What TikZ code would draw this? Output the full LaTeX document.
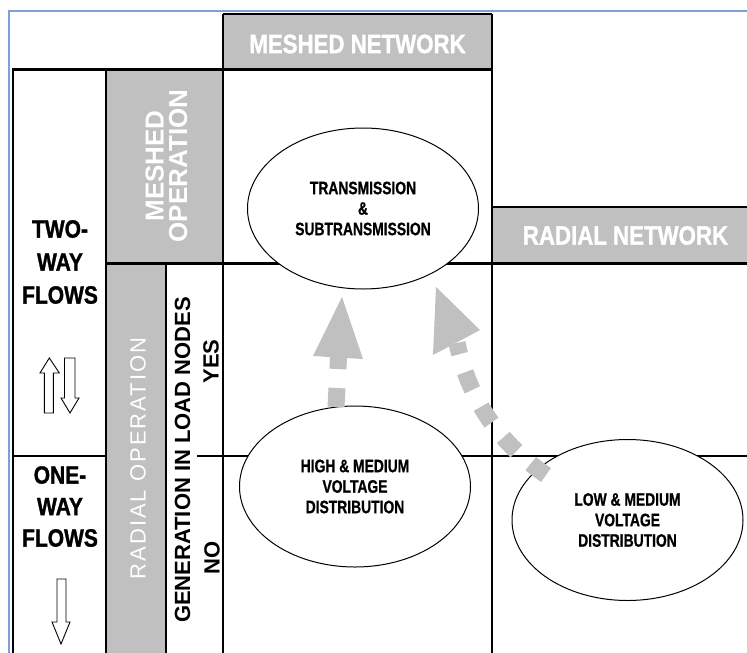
\documentclass[tikz,border=0pt]{standalone}
\usepackage{fontspec}
\setmainfont{Liberation Sans}
\newfontfamily\narrowfont[FakeStretch=0.84,FakeBold=1.2]{Liberation Sans}
\newfontfamily\ellfont[FakeStretch=0.77,FakeBold=0.8]{Liberation Sans}
\newfontfamily\spacedfont[LetterSpace=9]{Liberation Sans}
\usetikzlibrary{shapes.geometric}
\definecolor{cellgrey}{RGB}{192,192,192}
\definecolor{frameblue}{RGB}{125,160,215}
\begin{document}
\begin{tikzpicture}[x=1pt,y=-1pt,
  thickrule/.style={line width=3pt},
  midrule/.style={line width=2pt},
  thinrule/.style={line width=1.1pt},
  hdr/.style={text=white, inner sep=0pt, font=\narrowfont\bfseries\fontsize{26.5}{28}\selectfont},
  sidetext/.style={align=center, inner sep=0pt, font=\narrowfont\bfseries\fontsize{25}{33}\selectfont},
  vwhite/.style={rotate=90, text=white, align=center, inner sep=0pt, font=\bfseries\fontsize{26}{23.5}\selectfont},
  vspaced/.style={rotate=90, text=white, inner sep=0pt, font=\spacedfont\fontsize{22}{24}\selectfont},
  vblack/.style={rotate=90, inner sep=0pt, font=\bfseries\fontsize{22}{24}\selectfont},
  ell/.style={ellipse, draw, line width=1pt, fill=white, minimum width=231pt, minimum height=161pt,
     inner sep=0pt, align=center, font=\ellfont\bfseries\fontsize{18}{20.5}\selectfont},
  flowarrow/.style={draw=black, fill=white, line width=0.9pt, line join=miter},
  greyflow/.style={draw=cellgrey, line width=17pt, dash pattern=on 19pt off 19pt},
  greyhead/.style={fill=cellgrey}]

\useasboundingbox (0,0) rectangle (747,653);
\fill[white] (0,0) rectangle (747,653);

% frame
\draw[frameblue, line width=1.2pt] (9,653) -- (9,11) -- (747,11);

% grey fills
\fill[cellgrey] (223,13.5) rectangle (492,69);
\fill[cellgrey] (106,69) rectangle (223,263);
\fill[cellgrey] (106,263) rectangle (166,653);
\fill[cellgrey] (492,207) rectangle (747,263);

% rules
\draw[midrule] (223,13.5) -- (492,13.5);
\draw[thinrule] (223,13.5) -- (223,653);
\draw[thinrule] (492,13.5) -- (492,653);
\draw[thickrule] (13,69) -- (492,69);
\draw[midrule] (13,68) -- (13,653);
\draw[midrule] (106,68) -- (106,653);
\draw[thickrule] (106,263) -- (747,263);
\draw[line width=2.5pt] (492,207) -- (747,207);
\draw[thinrule] (166,263) -- (166,653);
\draw[thinrule] (13,456) -- (106,456);
\draw[thinrule] (197,456) -- (747,456);

% header texts
\node[hdr] (meshnet) at (357.5,44) {MESHED NETWORK};
\node[hdr] (radnet) at (625.5,235.5) {RADIAL NETWORK};

% left column
\node[sidetext] (twoway) at (60,262) {TWO-\\WAY\\FLOWS};
\node[sidetext, font=\narrowfont\bfseries\fontsize{25}{31.5}\selectfont] (oneway) at (60,506.5) {ONE-\\WAY\\FLOWS};

\draw[flowarrow] (44.3,413) -- (44.3,373) -- (40,373) -- (49.3,358) -- (59.3,373) -- (53.3,373) -- (53.3,413) -- cycle;
\draw[flowarrow] (64.5,358) -- (75,358) -- (75,398) -- (79,398) -- (70,413) -- (61,398) -- (64.5,398) -- cycle;
\draw[flowarrow] (57,579) -- (66,579) -- (66,622) -- (70,622) -- (61,644) -- (52,622) -- (57,622) -- cycle;

% vertical texts
\node[vwhite] (meshop) at (166.5,166) {MESHED\\OPERATION};
\node[vspaced] (radop) at (138,458.5) {RADIAL OPERATION};
\node[vblack] (gen) at (182.5,460) {GENERATION IN LOAD NODES};
\node[vblack] (yes) at (211,361.5) {YES};
\node[vblack] (no) at (212,557.5) {NO};

% ellipses
\node[ell] (ts) at (363,208.5) {TRANSMISSION\\\&\\SUBTRANSMISSION};
\node[ell] (hmv) at (355,486.5) {HIGH \& MEDIUM\\VOLTAGE\\DISTRIBUTION};
\node[ell] (lmv) at (627.5,520) {LOW \& MEDIUM\\VOLTAGE\\DISTRIBUTION};

% grey flow arrows
\coordinate (a1s) at (336,407);
\coordinate (a1e) at (338.5,357);
\coordinate (a1t) at (342,297);
\coordinate (a1l) at (313,356);
\coordinate (a1r) at (363,359);
\draw[greyflow] (a1s) -- (a1e);
\fill[greyhead] (a1t) -- (a1l) -- (a1r) -- cycle;

\coordinate (a2s) at (546,475);
\coordinate (a2e) at (457,343);
\coordinate (a2t) at (436,287);
\coordinate (a2l) at (433,355);
\coordinate (a2r) at (480,330);
\draw[greyflow] (a2s) .. controls (495,440) and (468,395) .. (a2e);
\fill[greyhead] (a2t) -- (a2l) -- (a2r) -- cycle;

\end{tikzpicture}
\end{document}
